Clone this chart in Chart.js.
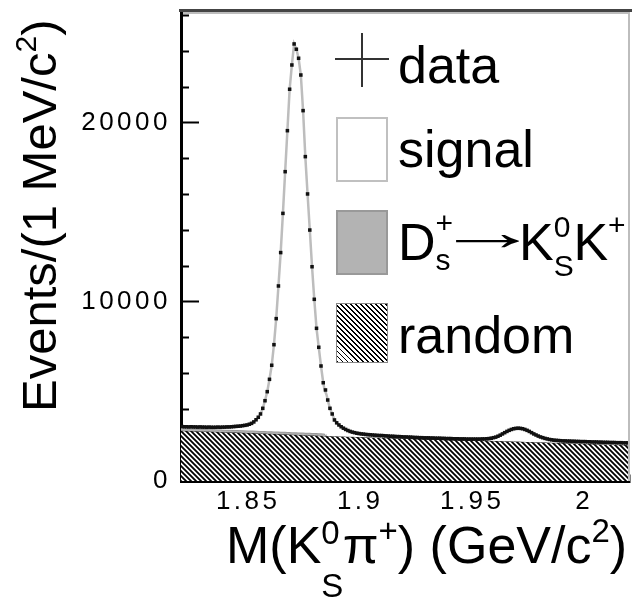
<!DOCTYPE html>
<html>
<head>
<meta charset="utf-8">
<script src="https://cdn.jsdelivr.net/npm/chart.js@4.4.1/dist/chart.umd.min.js"></script>
<style>
    body { margin: 0; background: #fff; }
    #wrap { position: relative; width: 632px; height: 597px; overflow: hidden;
            font-family: 'Liberation Sans', Arial, Helvetica, sans-serif; color: #000; }
    #chart { position: absolute; left: 0; top: 0; }
    .txt { position: absolute; white-space: nowrap; line-height: 1; }
    .st { position: relative; display: inline-block; padding-right: 3px; }
    .st .d { position: absolute; left: 0; }
    .up { position: relative; }
    .box { position: absolute; box-sizing: border-box; }
</style>
</head>
<body>
<div id="wrap">
    <canvas id="chart" width="632" height="597"></canvas>

    <!-- axis titles -->
    <div class="txt" style="left:15px; top:412px; font-size:49px; transform-origin:0 0; transform:rotate(-90deg);">Events/(1 MeV/c<span class="up" style="font-size:30px; top:-20px;">2</span>)</div>
    <div class="txt" style="left:226px; top:519px; font-size:52px;">M(K<span class="st" style="font-size:33px;"><span class="up" style="top:-19px;">0</span><span class="d" style="top:34px;">S</span></span>π<span class="up" style="font-size:33px; top:-21px;">+</span>) (GeV/c<span class="up" style="font-size:33px; top:-21px;">2</span>)</div>

    <!-- legend -->
    <div class="box" style="left:335px; top:58px; width:54px; height:2px; background:#333;"></div>
    <div class="box" style="left:361px; top:33px; width:2px; height:54px; background:#333;"></div>
    <div class="txt" style="left:398px; top:39px; font-size:52px;">data</div>

    <div class="box" style="left:336px; top:117px; width:52px; height:65px; background:#fff; border:2px solid #c0c0c0;"></div>
    <div class="txt" style="left:398px; top:123px; font-size:52px;">signal</div>

    <div class="box" style="left:336px; top:210px; width:52px; height:65px; background:#b3b3b3; border:2px solid #999;"></div>
    <div class="txt" style="left:398px; top:216px; font-size:52px;">D<span class="st" style="font-size:30px;"><span class="up" style="top:-27px;">+</span><span class="d" style="top:10px;">s</span></span></div>
    <div class="txt" style="left:434px; top:206px; font-size:52px; transform-origin:0 50%; transform:scaleX(2.04);">→</div>
    <div class="txt" style="left:519px; top:216px; font-size:52px;">K<span class="st" style="font-size:30px;"><span class="up" style="top:-23px;">0</span><span class="d" style="top:16px;">S</span></span>K<span class="up" style="font-size:30px; top:-25px;">+</span></div>

    <div class="box" style="left:336px; top:303px; width:52px; height:60px; border:1px solid #888;
         background:repeating-linear-gradient(45deg, #000 0 1.4px, #fff 1.4px 3.54px);"></div>
    <div class="txt" style="left:398px; top:309px; font-size:52px;">random</div>
</div>

<script>
// fit components, evaluated on a common mass grid (GeV/c^2), events per MeV
const fitMass = [
    1.8200, 1.8250, 1.8300, 1.8350, 1.8400, 1.8450, 1.8480, 1.8500, 1.8520, 1.8540,
    1.8555, 1.8565, 1.8575, 1.8585, 1.8595, 1.8605, 1.8615, 1.8625, 1.8635, 1.8645,
    1.8655, 1.8665, 1.8675, 1.8685, 1.8695, 1.8705, 1.8715, 1.8725, 1.8735, 1.8745,
    1.8755, 1.8765, 1.8775, 1.8785, 1.8795, 1.8805, 1.8815, 1.8825, 1.8835, 1.8840,
    1.8850, 1.8855, 1.8865, 1.8875, 1.8885, 1.8895, 1.8905, 1.8925, 1.8945, 1.8965,
    1.8985, 1.9005, 1.9055, 1.9105, 1.9205, 1.9305, 1.9405, 1.9505, 1.9545, 1.9575,
    1.9605, 1.9625, 1.9645, 1.9665, 1.9685, 1.9705, 1.9725, 1.9745, 1.9765, 1.9785,
    1.9805, 1.9835, 1.9865, 1.9905, 2.0005, 2.0105, 2.0200
];
const randomBkg = [
    2810, 2790, 2770, 2750, 2725, 2705, 2690, 2685, 2675, 2665,
    2660, 2655, 2650, 2645, 2640, 2635, 2630, 2625, 2620, 2615,
    2610, 2605, 2600, 2595, 2590, 2585, 2580, 2575, 2570, 2565,
    2560, 2555, 2550, 2545, 2540, 2535, 2530, 2525, 2520, 2518,
    2515, 2512, 2508, 2504, 2500, 2496, 2492, 2484, 2476, 2468,
    2460, 2455, 2435, 2415, 2375, 2340, 2305, 2270, 2256, 2245,
    2235, 2228, 2221, 2214, 2207, 2200, 2192, 2184, 2176, 2168,
    2160, 2148, 2136, 2120, 2080, 2045, 2010
];
const dsKsK = [
    140, 140, 140, 140, 140, 140, 140, 140, 140, 140,
    140, 140, 140, 140, 140, 140, 140, 140, 140, 140,
    140, 140, 140, 140, 140, 140, 140, 140, 140, 140,
    140, 140, 140, 140, 140, 140, 140, 140, 140, 140,
    0, 0, 0, 0, 0, 0, 0, 0, 0, 0,
    0, 0, 0, 0, 0, 0, 0, 0, 0, 0,
    0, 0, 0, 0, 0, 0, 0, 0, 0, 0,
    0, 0, 0, 0, 0, 0, 0
];
const signalFit = [
    90, 95, 100, 115, 140, 205, 265, 320, 440, 680,
    945, 1265, 1695, 2205, 2900, 3690, 4845, 6305, 8135, 10005,
    12200, 14535, 16830, 19150, 20510, 21690, 21400, 20900, 19970, 17985,
    15420, 13340, 11330, 9285, 7470, 5855, 4800, 3760, 2830, 2500,
    2290, 2013, 1552, 1241, 910, 754, 638, 466, 344, 262,
    210, 175, 135, 115, 85, 70, 65, 70, 94, 125,
    215, 332, 479, 616, 713, 750, 728, 646, 524, 402,
    300, 202, 144, 120, 120, 115, 120
];

// data histogram, 1 MeV bins starting at 1.820
const firstBinCenter = 1.8205;
const binWidth = 0.001;
const dataCounts = [
    3040, 3030, 3030, 3020, 3030, 3020, 3020, 3010, 3020, 3010,
    3010, 3000, 3010, 3000, 3000, 3000, 3010, 3000, 3010, 3010,
    3020, 3020, 3030, 3040, 3050, 3060, 3070, 3090, 3110, 3130,
    3170, 3220, 3300, 3420, 3560, 3745, 4060, 4485, 4990, 5680,
    6465, 7615, 9070, 10895, 12760, 14950, 17280, 19570, 21885, 23240,
    24415, 24120, 23615, 22680, 20690, 18120, 16035, 14020, 11970, 10150,
    8530, 7470, 6425, 5490, 5085, 4525, 4060, 3745, 3410, 3250,
    3130, 3030, 2950, 2880, 2820, 2770, 2730, 2700, 2670, 2650,
    2630, 2620, 2600, 2590, 2580, 2570, 2560, 2550, 2540, 2540,
    2530, 2520, 2510, 2500, 2500, 2490, 2480, 2480, 2470, 2460,
    2460, 2450, 2450, 2440, 2430, 2430, 2420, 2420, 2410, 2410,
    2410, 2400, 2400, 2390, 2390, 2390, 2380, 2380, 2370, 2370,
    2370, 2360, 2360, 2360, 2350, 2350, 2350, 2340, 2340, 2340,
    2340, 2340, 2340, 2340, 2350, 2350, 2360, 2370, 2390, 2420,
    2450, 2500, 2560, 2630, 2700, 2770, 2830, 2880, 2920, 2940,
    2950, 2940, 2920, 2880, 2830, 2770, 2700, 2630, 2570, 2510,
    2460, 2420, 2380, 2350, 2320, 2300, 2280, 2270, 2260, 2250,
    2240, 2240, 2230, 2230, 2220, 2220, 2210, 2210, 2200, 2200,
    2200, 2190, 2190, 2180, 2180, 2180, 2170, 2170, 2160, 2160,
    2160, 2150, 2150, 2150, 2140, 2140, 2140, 2130, 2130, 2130
];

// axis ranges, tick marks and labelled ticks
const xRange = [1.82, 2.02];
const yRange = [0, 26200];
const xTickValues = [
    1.82, 1.83, 1.84, 1.85, 1.86, 1.87, 1.88, 1.89, 1.90, 1.91, 1.92,
    1.93, 1.94, 1.95, 1.96, 1.97, 1.98, 1.99, 2.00, 2.01, 2.02
];
const yTickValues = [
    0, 2000, 4000, 6000, 8000, 10000, 12000, 14000, 16000, 18000, 20000,
    22000, 24000, 26000
];
const xLabelValues = [1.85, 1.9, 1.95, 2];
const yLabelValues = [0, 10000, 20000];

function findLabel(list, v) {
    return list.find(l => Math.abs(l - v) < 1e-6);
}

function makeHatch() {
    const c = document.createElement('canvas');
    c.width = 5;
    c.height = 5;
    const g = c.getContext('2d');
    g.fillStyle = '#fff';
    g.fillRect(0, 0, 5, 5);
    g.strokeStyle = '#000';
    g.lineWidth = 1.8;
    g.beginPath();
    [-5, 0, 5].forEach(o => {
        g.moveTo(o - 1, -1);
        g.lineTo(o + 6, 6);
    });
    g.stroke();
    return g.createPattern(c, 'repeat');
}

// stacked curves: random, random + Ds reflection, random + reflection + signal
const randomPts = fitMass.map((m, i) => ({ x: m, y: randomBkg[i] }));
const reflPts = fitMass.map((m, i) => ({ x: m, y: randomBkg[i] + dsKsK[i] }));
const signalPts = fitMass.map((m, i) => ({ x: m, y: randomBkg[i] + dsKsK[i] + signalFit[i] }));
const dataPts = dataCounts.map((n, i) => ({ x: firstBinCenter + i * binWidth, y: n }));

// fixed axis box sizes, no extra label padding
function fixBox(size, key) {
    return s => {
        s[key] = size;
        s.paddingTop = 0;
        s.paddingBottom = 0;
        s.paddingLeft = 0;
        s.paddingRight = 0;
    };
}

// top / right frame lines and wide tick label spacing
const framePlugin = {
    id: 'frame',
    beforeDraw(chart) {
        chart.ctx.letterSpacing = '3.5px';
    },
    afterDraw(chart) {
        const { ctx, chartArea: a } = chart;
        ctx.save();
        ctx.lineWidth = 3;
        ctx.strokeStyle = '#444';
        ctx.beginPath();
        ctx.moveTo(a.left - 2, a.top - 1.5);
        ctx.lineTo(632, a.top - 1.5);
        ctx.stroke();
        ctx.lineWidth = 2;
        ctx.strokeStyle = '#bdbdbd';
        ctx.beginPath();
        ctx.moveTo(a.left + 2, a.top + 1);
        ctx.lineTo(a.right, a.top + 1);
        ctx.moveTo(a.right, a.top);
        ctx.lineTo(a.right, a.bottom);
        ctx.stroke();
        ctx.restore();
    }
};

const tickFont = { family: "'Liberation Sans', Arial, sans-serif", size: 26 };

new Chart(document.getElementById('chart').getContext('2d'), {
    type: 'line',
    data: {
        datasets: [
            {
                label: 'data',
                data: dataPts,
                showLine: false,
                pointStyle: 'rect',
                pointRadius: 2.5,
                pointBackgroundColor: '#111',
                pointBorderWidth: 0,
                order: 0
            },
            {
                label: 'signal',
                data: signalPts,
                borderColor: '#bdbdbd',
                borderWidth: 2.5,
                backgroundColor: '#fff',
                fill: 2,
                pointRadius: 0,
                order: 1
            },
            {
                label: 'Ds -> KsK',
                data: reflPts,
                borderColor: '#999',
                borderWidth: 2,
                backgroundColor: '#b3b3b3',
                fill: 3,
                pointRadius: 0,
                segment: {
                    borderColor: c => (dsKsK[c.p0DataIndex] === 0 ? 'rgba(0,0,0,0)' : '#999')
                },
                order: 2
            },
            {
                label: 'random',
                data: randomPts,
                borderColor: '#222',
                borderWidth: 1,
                backgroundColor: makeHatch(),
                fill: 'origin',
                pointRadius: 0,
                order: 3
            }
        ]
    },
    options: {
        responsive: false,
        animation: false,
        devicePixelRatio: 1,
        events: [],
        layout: { autoPadding: false, padding: { left: 0, right: 3, top: 12, bottom: 0 } },
        elements: { line: { tension: 0 } },
        plugins: {
            legend: { display: false },
            tooltip: { enabled: false }
        },
        scales: {
            x: {
                type: 'linear',
                min: xRange[0],
                max: xRange[1],
                afterFit: fixBox(116, 'height'),
                afterBuildTicks: s => { s.ticks = xTickValues.map(v => ({ value: v })); },
                border: { color: '#000', width: 3 },
                grid: {
                    drawOnChartArea: false,
                    tickLength: -14,
                    tickWidth: 2,
                    tickColor: '#000',
                    tickBorderDash: c => (findLabel(xLabelValues, c.tick.value) !== undefined ? [] : [8.5, 100])
                },
                ticks: {
                    autoSkip: false,
                    maxRotation: 0,
                    padding: 19,
                    color: '#000',
                    font: tickFont,
                    callback: v => {
                        const l = findLabel(xLabelValues, v);
                        return l === undefined ? '' : String(l);
                    }
                }
            },
            y: {
                type: 'linear',
                min: yRange[0],
                max: yRange[1],
                afterFit: fixBox(181, 'width'),
                afterBuildTicks: s => { s.ticks = yTickValues.map(v => ({ value: v })); },
                border: { color: '#000', width: 3 },
                grid: {
                    drawOnChartArea: false,
                    tickLength: -18,
                    tickWidth: 2,
                    tickColor: '#000',
                    tickBorderDash: c => (findLabel(yLabelValues, c.tick.value) !== undefined ? [] : [0, 10, 20, 100])
                },
                ticks: {
                    autoSkip: false,
                    padding: 28,
                    color: '#000',
                    font: tickFont,
                    callback: v => {
                        const l = findLabel(yLabelValues, v);
                        return l === undefined ? '' : String(l);
                    }
                }
            }
        }
    },
    plugins: [framePlugin]
});
</script>
</body>
</html>
